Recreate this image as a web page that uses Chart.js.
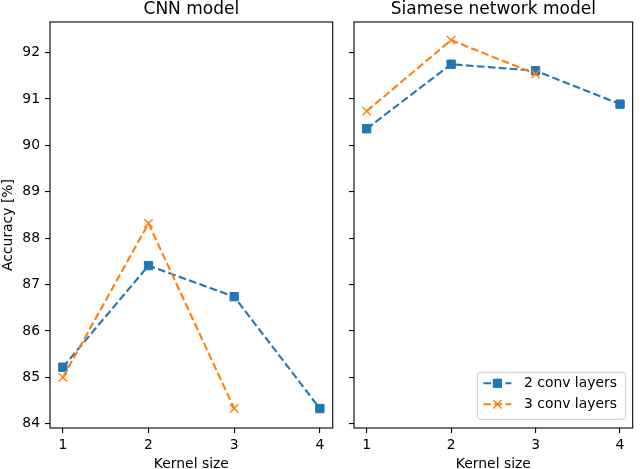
<!DOCTYPE html>
<html>
<head>
<meta charset="utf-8">
<script src="https://cdn.jsdelivr.net/npm/chart.js@4.4.1/dist/chart.umd.min.js"></script>
<style>
html, body { margin: 0; padding: 0; background: #fff; }
#cadreGlobal { position: relative; width: 640px; height: 469px; overflow: hidden; }
.boite { position: absolute; top: 0; height: 469px; }
#gauche { left: 0; width: 340px; }
#droite { left: 340px; width: 300px; }
</style>
</head>
<body>
<div id="cadreGlobal">
  <div class="boite" id="gauche"><canvas id="graphCnn"></canvas></div>
  <div class="boite" id="droite"><canvas id="graphSiamois"></canvas></div>
</div>
<script>
// ==== Données ====
const tailleNoyau = [1, 2, 3, 4];
const graduationsY = [84, 85, 86, 87, 88, 89, 90, 91, 92];
const nomsSeries = ['2 conv layers', '3 conv layers'];
const titres = ['CNN model', 'Siamese network model'];

const cnn2couches = [85.22, 87.41, 86.74, 84.33];
const cnn3couches = [85.0, 88.32, 84.33];
const siamois2couches = [90.36, 91.75, 91.61, 90.89];
const siamois3couches = [90.74, 92.27, 91.54];

// ==== Styles ====
const bleu = '#1f77b4';
const orange = '#ff7f0e';
const pointilles = [7.7, 3.3];
const police = 'DejaVu Sans';

function versPoints(valeurs) {
  return valeurs.map((v, i) => ({x: tailleNoyau[i], y: v}));
}

function jeuxDeDonnees(serie2, serie3) {
  return [
    {
      label: nomsSeries[0], data: versPoints(serie2),
      borderColor: bleu, backgroundColor: bleu, borderWidth: 2.1, borderDash: pointilles,
      pointStyle: 'rect', pointRadius: 5.9, pointHoverRadius: 5.9,
      pointBackgroundColor: bleu, pointBorderColor: bleu, pointBorderWidth: 1,
      tension: 0, order: 2
    },
    {
      label: nomsSeries[1], data: versPoints(serie3),
      borderColor: orange, backgroundColor: orange, borderWidth: 2.1, borderDash: pointilles,
      pointStyle: 'crossRot', pointRadius: 5.9, pointHoverRadius: 5.9,
      pointBackgroundColor: orange, pointBorderColor: orange, pointBorderWidth: 1.4,
      tension: 0, order: 1
    }
  ];
}

// cadre noir autour de la zone du graphique (spines matplotlib)
const cadre = {
  id: 'cadre',
  afterDraw(chart) {
    const {ctx, chartArea: {left, top, width, height}} = chart;
    ctx.save();
    ctx.strokeStyle = '#000';
    ctx.lineWidth = 1.1;
    ctx.strokeRect(left, top, width, height);
    ctx.restore();
  }
};

// titre centré sur la zone du graphique
const titreAxes = {
  id: 'titreAxes',
  afterDraw(chart, args, opts) {
    const {ctx, chartArea: {left, right, top}} = chart;
    ctx.save();
    ctx.font = '17px "' + police + '"';
    ctx.fillStyle = '#000';
    ctx.textAlign = 'center';
    ctx.textBaseline = 'alphabetic';
    ctx.fillText(opts.texte, (left + right) / 2, top - 8.3);
    ctx.restore();
  }
};

// légende façon matplotlib (ligne pointillée + marqueur)
const legendeMaison = {
  id: 'legendeMaison',
  afterDraw(chart, args, opts) {
    if (!opts.afficher) return;
    const {ctx, chartArea: {right, bottom}} = chart;
    const larg = 148.3, haut = 47;
    const x0 = right - 7 - larg, y0 = bottom - 8.7 - haut;
    ctx.save();
    ctx.beginPath();
    ctx.roundRect(x0, y0, larg, haut, 3);
    ctx.fillStyle = 'rgba(255,255,255,0.8)';
    ctx.fill();
    ctx.strokeStyle = '#cccccc';
    ctx.lineWidth = 1;
    ctx.stroke();
    chart.data.datasets.forEach((ds, i) => {
      const y = y0 + 11 + i * 21;
      const xa = x0 + 6, xb = xa + 28, xm = (xa + xb) / 2;
      ctx.setLineDash(ds.borderDash);
      ctx.lineWidth = ds.borderWidth;
      ctx.strokeStyle = ds.borderColor;
      ctx.beginPath();
      ctx.moveTo(xa, y);
      ctx.lineTo(xb, y);
      ctx.stroke();
      ctx.setLineDash([]);
      if (ds.pointStyle === 'rect') {
        ctx.fillStyle = ds.borderColor;
        ctx.fillRect(xm - 4.6, y - 4.6, 9.2, 9.2);
      } else {
        ctx.lineWidth = ds.pointBorderWidth;
        ctx.beginPath();
        ctx.moveTo(xm - 4.2, y - 4.2); ctx.lineTo(xm + 4.2, y + 4.2);
        ctx.moveTo(xm - 4.2, y + 4.2); ctx.lineTo(xm + 4.2, y - 4.2);
        ctx.stroke();
      }
      ctx.fillStyle = '#000';
      ctx.font = '13.9px "' + police + '"';
      ctx.textAlign = 'left';
      ctx.textBaseline = 'middle';
      ctx.fillText(ds.label, x0 + 46.6, y);
    });
    ctx.restore();
  }
};

function echelles(largeurY, etiquettesY) {
  const grille = {drawOnChartArea: false, drawTicks: true, tickLength: 5, color: '#000', tickColor: '#000', lineWidth: 1.1};
  return {
    x: {
      type: 'linear', min: 0.85, max: 4.15,
      afterBuildTicks: s => { s.ticks = tailleNoyau.map(v => ({value: v})); },
      afterFit: s => { s.height = 41; },
      grid: grille,
      border: {display: false},
      ticks: {color: '#000', font: {family: police, size: 13.9}, padding: 4, maxRotation: 0, autoSkip: false},
      title: {display: true, text: 'Kernel size', color: '#000', font: {family: police, size: 13.9}, padding: {top: 0, bottom: -3.5}}
    },
    y: {
      type: 'linear', min: 83.91, max: 92.66,
      afterBuildTicks: s => { s.ticks = graduationsY.map(v => ({value: v})); },
      afterFit: s => { s.width = largeurY; },
      grid: grille,
      border: {display: false},
      ticks: {display: etiquettesY, color: '#000', font: {family: police, size: 13.9}, padding: 5, autoSkip: false},
      title: {display: etiquettesY, text: 'Accuracy [%]', color: '#000', font: {family: police, size: 13.9}, padding: 0}
    }
  };
}

function config(titre, serie2, serie3, largeurY, etiquettesY, droite, avecLegende) {
  return {
    type: 'line',
    data: {datasets: jeuxDeDonnees(serie2, serie3)},
    options: {
      responsive: true,
      maintainAspectRatio: false,
      animation: false,
      layout: {padding: {top: 22, right: droite, left: 0, bottom: 0}},
      scales: echelles(largeurY, etiquettesY),
      plugins: {
        legend: {display: false},
        tooltip: {enabled: false},
        titreAxes: {texte: titre},
        legendeMaison: {afficher: avecLegende}
      }
    },
    plugins: [cadre, titreAxes, legendeMaison]
  };
}

const graphCnn = new Chart(
  document.getElementById('graphCnn'),
  config(titres[0], cnn2couches, cnn3couches, 50, true, 7, false)
);

const graphSiamois = new Chart(
  document.getElementById('graphSiamois'),
  config(titres[1], siamois2couches, siamois3couches, 14, false, 2, true)
);
</script>
</body>
</html>
